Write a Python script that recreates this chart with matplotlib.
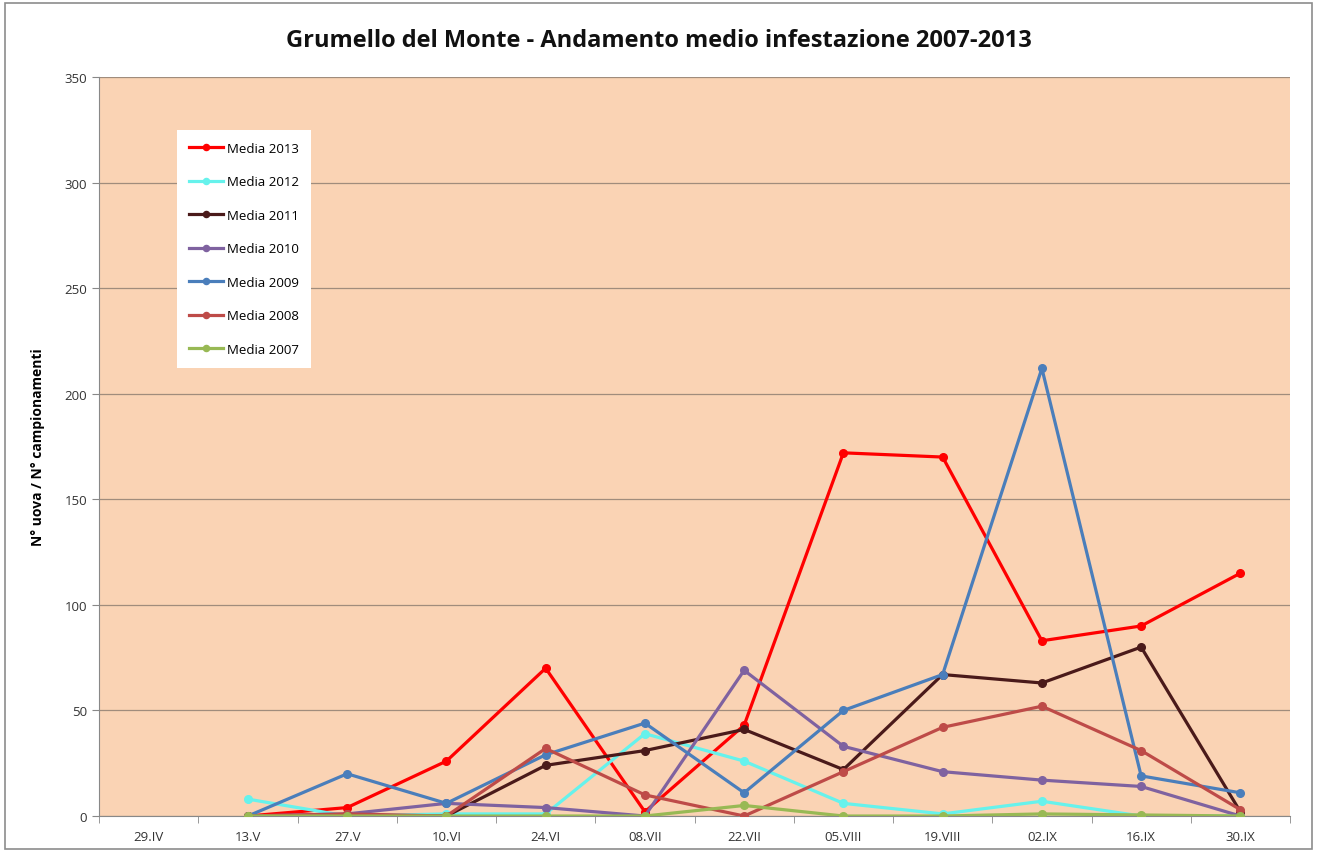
import numpy as np
import matplotlib.pyplot as plt
from matplotlib.patches import Rectangle

plt.rcParams['font.family'] = ['Open Sans', 'DejaVu Sans']

# Sampling dates (first date has no data)
dates = ['29.IV', '13.V', '27.V', '10.VI', '24.VI', '08.VII', '22.VII',
         '05.VIII', '19.VIII', '02.IX', '16.IX', '30.IX']
nan = np.nan

media_2013 = [nan, 0, 4, 26, 70, 2, 43, 172, 170, 83, 90, 115]
media_2012 = [nan, 8, 0, 1, 1, 39, 26, 6, 1, 7, 0, 0]
media_2011 = [nan, 0, 0, 0, 24, 31, 41, 22, 67, 63, 80, 2]
media_2010 = [nan, 0, 1, 6, 4, 0, 69, 33, 21, 17, 14, 0]
media_2009 = [nan, 0, 20, 6, 29, 44, 11, 50, 67, 212, 19, 11]
media_2008 = [nan, 0, 1, 0, 32, 10, 0, 21, 42, 52, 31, 3]
media_2007 = [nan, 0, 0, 0, 0, 0, 5, 0, 0, 1, 0.5, 0]

series = [
    ('Media 2013', media_2013, '#FF0000'),
    ('Media 2012', media_2012, '#66F2EC'),
    ('Media 2011', media_2011, '#4A1A1A'),
    ('Media 2010', media_2010, '#7F62A0'),
    ('Media 2009', media_2009, '#4A7EBB'),
    ('Media 2008', media_2008, '#BE4B48'),
    ('Media 2007', media_2007, '#98B954'),
]

fig = plt.figure(figsize=(13.17, 8.54), dpi=100)
ax = fig.add_axes([0.0752, 0.0433, 0.9043, 0.8654])
ax.set_facecolor('#FAD3B4')

x = np.arange(len(dates))
for name, vals, col in series:
    ax.plot(x, vals, color=col, lw=2.3, marker='o', ms=5.5, label=name, zorder=3)

ax.set_xlim(-0.5, len(dates) - 0.5)
ax.set_ylim(0, 350)
ax.set_yticks(np.arange(0, 351, 50))
ax.set_xticks(x)
ax.set_xticklabels(dates)
ax.set_xticks(np.arange(-0.5, len(dates), 1), minor=True)
ax.tick_params(axis='x', which='major', length=0, labelsize=9.5, colors='#333333', pad=10)
ax.tick_params(axis='x', which='minor', length=5, color='#888888', direction='out')
ax.tick_params(axis='y', length=5, color='#888888', labelsize=9.5, labelcolor='#333333')
ax.yaxis.grid(True, color='#A08C7C', lw=0.9)
ax.set_axisbelow(True)
for side in ['top', 'right']:
    ax.spines[side].set_visible(False)
ax.spines['left'].set_color('#888888')
ax.spines['bottom'].set_color('#888888')

ax.set_ylabel('N° uova / N° campionamenti', fontsize=10, fontweight='bold', labelpad=14)
fig.text(0.5, 0.952, 'Grumello del Monte - Andamento medio infestazione 2007-2013',
         ha='center', va='center', fontsize=17, fontweight='bold', color='#111111')

leg = ax.legend(loc='upper left', bbox_to_anchor=(0.060, 0.937), frameon=True,
                fancybox=False, framealpha=1, edgecolor='white', fontsize=9.5,
                labelspacing=1.55, handlelength=2.6, markerscale=0.8,
                borderpad=0.9, handletextpad=0.3)
leg.get_frame().set_linewidth(0)

# outer frame of the chart
fig.patches.append(Rectangle((0.004, 0.005), 0.992, 0.99, transform=fig.transFigure,
                             fill=False, edgecolor='#8C8C8C', lw=1.2))

fig.savefig('out.png', dpi=100)
